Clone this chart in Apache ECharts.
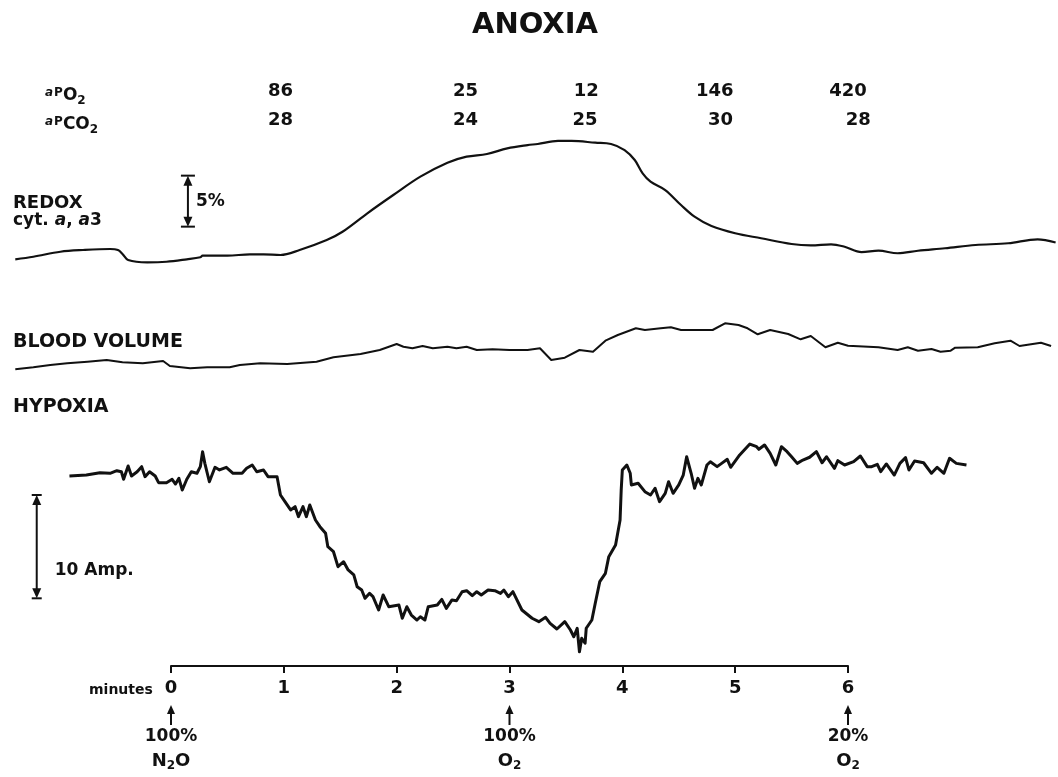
<!DOCTYPE html>
<html>
<head>
<meta charset="utf-8">
<title>ANOXIA</title>
<script src="https://cdn.jsdelivr.net/npm/echarts@6.0.0/dist/echarts.min.js"></script>
<style>
  html, body { margin: 0; padding: 0; background: #fff; }
  #chart { width: 1058px; height: 777px; }
</style>
</head>
<body>
<div id="chart"></div>
<script>
// time in minutes (0 = 100% N2O)
var redoxTime = [-1.38, -1.22, -0.98, -0.78, -0.54, -0.47, -0.43, -0.38, -0.21, -0.04, 0.14, 0.26, 0.28, 0.50, 0.70, 0.82, 0.97, 1.14, 1.38, 1.52, 1.74, 1.97, 2.21, 2.45, 2.62, 2.80, 2.98, 3.16, 3.25, 3.43, 3.55, 3.76, 3.90, 4.02, 4.11, 4.18, 4.25, 4.38, 4.52, 4.64, 4.79, 5.00, 5.23, 5.50, 5.67, 5.85, 5.97, 6.12, 6.27, 6.44, 6.62, 6.86, 7.13, 7.42, 7.68, 7.84]
// % change, 0 = lowest level of the panel
var redoxValue = [1.05, 1.30, 1.79, 1.96, 2.06, 1.96, 1.57, 0.98, 0.75, 0.81, 1.05, 1.25, 1.40, 1.40, 1.54, 1.54, 1.47, 1.96, 2.94, 3.75, 5.56, 7.35, 9.15, 10.52, 11.11, 11.37, 11.93, 12.25, 12.35, 12.65, 12.65, 12.48, 12.35, 11.76, 10.78, 9.48, 8.66, 7.84, 6.37, 5.23, 4.31, 3.60, 3.11, 2.55, 2.42, 2.52, 2.28, 1.76, 1.89, 1.64, 1.89, 2.13, 2.45, 2.62, 3.01, 2.70]

var bloodTime = [-1.38, -1.22, -1.07, -0.92, -0.74, -0.57, -0.43, -0.25, -0.07, -0.01, 0.17, 0.32, 0.52, 0.61, 0.79, 1.03, 1.29, 1.44, 1.68, 1.85, 2.00, 2.06, 2.14, 2.23, 2.32, 2.45, 2.53, 2.62, 2.71, 2.85, 3.00, 3.16, 3.27, 3.37, 3.49, 3.62, 3.74, 3.85, 3.96, 4.12, 4.20, 4.34, 4.43, 4.52, 4.64, 4.80, 4.91, 5.03, 5.11, 5.20, 5.31, 5.47, 5.58, 5.67, 5.80, 5.91, 6.00, 6.27, 6.44, 6.53, 6.62, 6.74, 6.82, 6.91, 6.95, 7.15, 7.30, 7.44, 7.52, 7.71, 7.80]
// arbitrary units
var bloodValue = [2.14, 2.54, 3.00, 3.34, 3.66, 4.00, 3.54, 3.34, 3.80, 2.80, 2.34, 2.54, 2.54, 3.00, 3.34, 3.20, 3.66, 4.54, 5.20, 6.00, 7.20, 6.66, 6.34, 6.80, 6.34, 6.66, 6.34, 6.66, 6.00, 6.14, 6.00, 6.00, 6.34, 4.00, 4.46, 6.00, 5.66, 7.86, 9.00, 10.34, 10.00, 10.34, 10.54, 10.00, 10.00, 10.00, 11.34, 11.00, 10.34, 9.14, 10.00, 9.20, 8.14, 8.80, 6.54, 7.46, 6.86, 6.54, 6.00, 6.54, 5.86, 6.20, 5.66, 5.86, 6.46, 6.54, 7.34, 7.86, 6.80, 7.46, 6.80]

var hypoxiaTime = [-0.90, -0.75, -0.63, -0.54, -0.48, -0.44, -0.42, -0.38, -0.35, -0.30, -0.26, -0.23, -0.19, -0.14, -0.11, -0.04, 0.01, 0.04, 0.07, 0.10, 0.14, 0.18, 0.23, 0.26, 0.28, 0.30, 0.34, 0.39, 0.43, 0.49, 0.55, 0.63, 0.67, 0.72, 0.76, 0.82, 0.86, 0.94, 0.97, 1.01, 1.06, 1.10, 1.13, 1.17, 1.20, 1.23, 1.28, 1.32, 1.37, 1.39, 1.44, 1.48, 1.53, 1.57, 1.62, 1.65, 1.69, 1.72, 1.76, 1.79, 1.84, 1.88, 1.93, 2.02, 2.05, 2.09, 2.13, 2.18, 2.21, 2.25, 2.28, 2.36, 2.40, 2.44, 2.49, 2.53, 2.58, 2.62, 2.67, 2.71, 2.75, 2.81, 2.87, 2.92, 2.95, 2.99, 3.03, 3.11, 3.20, 3.26, 3.32, 3.36, 3.42, 3.49, 3.54, 3.57, 3.60, 3.62, 3.64, 3.67, 3.68, 3.73, 3.76, 3.80, 3.85, 3.88, 3.94, 3.98, 3.99, 4.00, 4.04, 4.07, 4.08, 4.14, 4.20, 4.25, 4.29, 4.33, 4.38, 4.41, 4.45, 4.50, 4.54, 4.57, 4.61, 4.64, 4.67, 4.70, 4.75, 4.78, 4.84, 4.88, 4.93, 4.96, 5.04, 5.13, 5.19, 5.21, 5.26, 5.31, 5.36, 5.41, 5.46, 5.50, 5.55, 5.60, 5.66, 5.72, 5.77, 5.81, 5.88, 5.91, 5.97, 6.05, 6.11, 6.17, 6.21, 6.26, 6.29, 6.34, 6.41, 6.46, 6.51, 6.54, 6.59, 6.67, 6.74, 6.79, 6.85, 6.90, 6.96, 7.05]
// Amp., 0 = bottom of the panel
var hypoxiaValue = [17.81, 17.90, 18.13, 18.07, 18.32, 18.22, 17.49, 18.77, 17.81, 18.22, 18.71, 17.74, 18.22, 17.81, 17.16, 17.16, 17.49, 17.03, 17.58, 16.45, 17.49, 18.22, 18.07, 18.71, 20.16, 19.03, 17.25, 18.65, 18.39, 18.65, 18.07, 18.07, 18.55, 18.87, 18.22, 18.39, 17.74, 17.74, 15.97, 15.32, 14.52, 14.84, 13.87, 14.84, 13.87, 15.00, 13.55, 12.90, 12.26, 10.96, 10.48, 9.03, 9.51, 8.71, 8.23, 7.09, 6.77, 5.97, 6.45, 6.13, 4.84, 6.29, 5.16, 5.32, 4.04, 5.16, 4.35, 3.87, 4.19, 3.87, 5.16, 5.32, 5.87, 5.00, 5.81, 5.74, 6.61, 6.71, 6.22, 6.61, 6.29, 6.77, 6.71, 6.45, 6.77, 6.13, 6.61, 4.84, 4.04, 3.71, 4.13, 3.55, 3.00, 3.71, 2.90, 2.25, 3.07, 0.80, 2.10, 1.62, 3.07, 3.87, 5.49, 7.58, 8.39, 10.00, 11.13, 13.55, 16.45, 18.39, 18.87, 18.07, 16.94, 17.10, 16.29, 15.97, 16.62, 15.32, 16.13, 17.25, 16.13, 16.94, 17.90, 19.67, 18.07, 16.62, 17.58, 16.94, 18.87, 19.19, 18.71, 19.03, 19.42, 18.65, 19.84, 20.90, 20.64, 20.39, 20.81, 20.00, 18.87, 20.64, 20.16, 19.67, 19.03, 19.35, 19.62, 20.16, 19.09, 19.67, 18.55, 19.29, 18.87, 19.19, 19.74, 18.71, 18.71, 18.94, 18.22, 18.97, 17.90, 19.03, 19.58, 18.39, 19.26, 19.09, 18.07, 18.65, 18.07, 19.52, 19.03, 18.87]

// blood gas readings printed above the traces
var pO2Time = [0.97, 2.61, 3.68, 4.82, 6.00]
var pO2Value = [86, 25, 12, 146, 420]
var pCO2Time = [0.97, 2.61, 3.67, 4.87, 6.09]
var pCO2Value = [28, 24, 25, 30, 28]

// gas switches under the time axis
var gasTime = [0, 3, 6]
var gasPercent = ['100%', '100%', '20%']
var gasName = ['N2O', 'O2', 'O2']

// calibration bars: [time, start value, span]
var redoxScale = [[0.15, 4.25, 5]]
var hypoxiaScale = [[-1.19, 5.97, 10]]

var W = 1058
var axisLeft = 171
var axisRight = 848
var pxPerMin = (axisRight - axisLeft) / 6
var tMin = -axisLeft / pxPerMin
var tMax = (W - axisLeft) / pxPerMin
var font = 'DejaVu Sans'
var ink = '#111'

function pairs(xs, ys) {
  return xs.map(function (x, i) { return [x, ys[i]] })
}

// N2O -> rich text with lowered digits
function chem(s) {
  return s.replace(/([A-Za-z]+)|(\d+)/g, function (m, a, d) {
    return a ? '{g|' + a + '}' : '{s|' + d + '}'
  })
}

function hiddenX(grid) {
  return { type: 'value', gridIndex: grid, min: tMin, max: tMax, show: false }
}

function scaleBar(grid, data, label, labelDx, labelFrac, capHalf) {
  return {
    type: 'custom',
    xAxisIndex: grid,
    yAxisIndex: grid,
    data: data,
    silent: true,
    renderItem: function (params, api) {
      var top = api.coord([api.value(0), api.value(1) + api.value(2)])
      var bot = api.coord([api.value(0), api.value(1)])
      var x = top[0], y0 = top[1], y1 = bot[1]
      var ah = 10, aw = 4.5
      var ls = { stroke: ink, lineWidth: 2 }
      return {
        type: 'group',
        children: [
          { type: 'line', shape: { x1: x, y1: y0 + 4, x2: x, y2: y1 - 4 }, style: ls },
          { type: 'line', shape: { x1: x - capHalf, y1: y0, x2: x + capHalf, y2: y0 }, style: ls },
          { type: 'line', shape: { x1: x - capHalf, y1: y1, x2: x + capHalf, y2: y1 }, style: ls },
          { type: 'polygon', shape: { points: [[x, y0], [x - aw, y0 + ah], [x + aw, y0 + ah]] }, style: { fill: ink } },
          { type: 'polygon', shape: { points: [[x, y1], [x - aw, y1 - ah], [x + aw, y1 - ah]] }, style: { fill: ink } },
          {
            type: 'text', x: x + labelDx, y: y1 - (y1 - y0) * labelFrac,
            style: { text: label, fontFamily: font, fontWeight: 'bold', fontSize: 17, fill: ink, align: 'left', verticalAlign: 'middle' }
          }
        ]
      }
    }
  }
}

function gasLabels(key, times, values) {
  return {
    type: 'scatter',
    xAxisIndex: 0,
    yAxisIndex: 0,
    symbolSize: 1,
    itemStyle: { color: 'transparent', opacity: 1 },
    silent: true,
    data: times.map(function (t, i) { return [t, key, values[i]] }),
    label: {
      show: true,
      position: 'inside',
      formatter: function (p) { return String(p.value[2]) },
      fontFamily: font,
      fontWeight: 'bold',
      fontSize: 18,
      color: ink,
      opacity: 1
    }
  }
}

var labelRich = {
  a: { fontFamily: font, fontSize: 12, fontStyle: 'italic', fontWeight: 'bold', color: ink, padding: [0, 1, 7, 0] },
  p: { fontFamily: font, fontSize: 12, fontWeight: 'bold', color: ink, padding: [0, 0, 7, 0] },
  o: { fontFamily: font, fontSize: 17, fontWeight: 'bold', color: ink },
  s: { fontFamily: font, fontSize: 12, fontWeight: 'bold', color: ink, padding: [10, 0, 0, 0] }
}

function text(x, y, str, size, extra) {
  var style = { text: str, fontFamily: font, fontWeight: 'bold', fontSize: size, fill: ink, align: 'left', verticalAlign: 'middle' }
  for (var k in extra) style[k] = extra[k]
  return { type: 'text', x: x, y: y, silent: true, style: style }
}

var chart = echarts.init(document.getElementById('chart'))

var option = {
  backgroundColor: '#fff',
  animation: false,
  grid: [
    { left: 0, right: 0, top: 77, height: 58 },    // blood gas numbers
    { left: 0, right: 0, top: 117, height: 153 },  // redox
    { left: 0, right: 0, top: 320, height: 60 },   // blood volume
    { left: 0, right: 0, top: 443, height: 217 },  // hypoxia
    { left: axisLeft, width: axisRight - axisLeft, top: 620, height: 46 } // minutes
  ],
  xAxis: [
    hiddenX(0), hiddenX(1), hiddenX(2), hiddenX(3),
    {
      type: 'value', gridIndex: 4, min: 0, max: 6, interval: 1,
      axisLine: { show: true, lineStyle: { color: ink, width: 2 } },
      axisTick: { show: true, inside: false, length: 7, lineStyle: { color: ink, width: 2 } },
      axisLabel: { color: ink, fontFamily: font, fontWeight: 'bold', fontSize: 18, margin: 13 },
      splitLine: { show: false }
    }
  ],
  yAxis: [
    { type: 'category', gridIndex: 0, data: ['PO2', 'PCO2'], inverse: true, show: false },
    { type: 'value', gridIndex: 1, min: 0, max: 15, show: false },
    { type: 'value', gridIndex: 2, min: 0, max: 12, show: false },
    { type: 'value', gridIndex: 3, min: 0, max: 21, show: false },
    { type: 'value', gridIndex: 4, min: 0, max: 1, show: false }
  ],
  series: [
    gasLabels('PO2', pO2Time, pO2Value),
    gasLabels('PCO2', pCO2Time, pCO2Value),
    {
      type: 'line', xAxisIndex: 1, yAxisIndex: 1, data: pairs(redoxTime, redoxValue),
      showSymbol: false, smooth: 0.35, silent: true,
      lineStyle: { color: ink, width: 2.2, join: 'round' }
    },
    {
      type: 'line', xAxisIndex: 2, yAxisIndex: 2, data: pairs(bloodTime, bloodValue),
      showSymbol: false, silent: true,
      lineStyle: { color: ink, width: 2, join: 'round' }
    },
    {
      type: 'line', xAxisIndex: 3, yAxisIndex: 3, data: pairs(hypoxiaTime, hypoxiaValue),
      showSymbol: false, silent: true,
      lineStyle: { color: ink, width: 3, join: 'round' }
    },
    scaleBar(1, redoxScale, '5%', 8, 0.5, 7),
    scaleBar(3, hypoxiaScale, '10 Amp.', 18, 0.27, 5),
    {
      type: 'custom',
      xAxisIndex: 4,
      yAxisIndex: 4,
      data: gasTime.map(function (t) { return [t, 0] }),
      silent: true,
      renderItem: function (params, api) {
        var p = api.coord([api.value(0), 0])
        var i = params.dataIndex
        var x = p[0], y = p[1]
        return {
          type: 'group',
          children: [
            { type: 'line', shape: { x1: x, y1: y + 46, x2: x, y2: y + 59 }, style: { stroke: ink, lineWidth: 2 } },
            { type: 'polygon', shape: { points: [[x, y + 39], [x - 4, y + 48], [x + 4, y + 48]] }, style: { fill: ink } },
            {
              type: 'text', x: x, y: y + 71,
              style: { text: gasPercent[i], fontFamily: font, fontWeight: 'bold', fontSize: 17, fill: ink, align: 'center', verticalAlign: 'middle' }
            },
            {
              type: 'text', x: x, y: y + 95,
              style: {
                text: chem(gasName[i]), align: 'center', verticalAlign: 'middle',
                rich: {
                  g: { fontFamily: font, fontWeight: 'bold', fontSize: 18, fill: ink },
                  s: { fontFamily: font, fontWeight: 'bold', fontSize: 12, fill: ink, padding: [10, 0, 0, 0] }
                }
              }
            }
          ]
        }
      }
    }
  ],
  graphic: [
    text(535, 25, 'ANOXIA', 29, { align: 'center' }),
    text(45, 96, '{a|a}{p|P}{o|O}{s|2}', 17, { rich: labelRich }),
    text(45, 125, '{a|a}{p|P}{o|CO}{s|2}', 17, { rich: labelRich }),
    text(13, 203, 'REDOX', 18),
    text(13, 221, '{n|cyt. }{i|a}{n|, }{i|a}{n|3}', 18, {
      rich: {
        n: { fontFamily: font, fontWeight: 'bold', fontSize: 17, color: ink },
        i: { fontFamily: font, fontWeight: 'bold', fontStyle: 'italic', fontSize: 17, color: ink }
      }
    }),
    text(13, 342, 'BLOOD VOLUME', 19),
    text(13, 407, 'HYPOXIA', 19),
    text(89, 690, 'minutes', 14)
  ]
}

chart.setOption(option)
</script>
</body>
</html>
